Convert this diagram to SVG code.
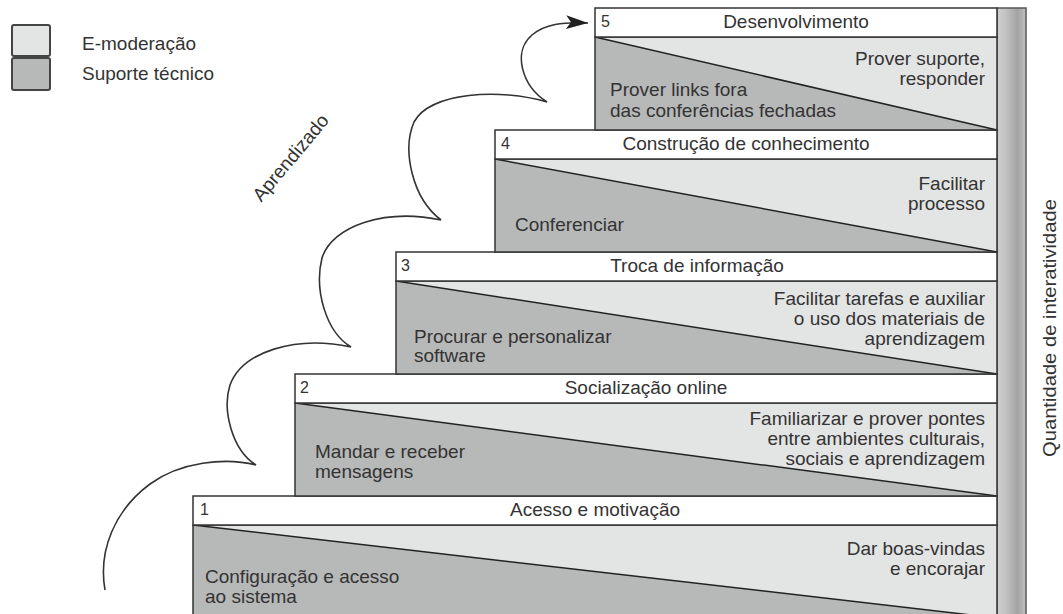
<svg xmlns="http://www.w3.org/2000/svg" width="1063" height="614" viewBox="0 0 1063 614">
<defs>
<style>
text{font-family:"Liberation Sans",Arial,Helvetica,sans-serif;fill:#333;font-size:19px}
.num{font-size:16px}
.mid{text-anchor:middle}
.end{text-anchor:end}
.hdr{fill:#fff;stroke:#333;stroke-width:1.5}
.lt{fill:#e3e4e4}
.dk{fill:#b7b8b8}
.diag{stroke:#222;stroke-width:1.5;fill:none}
.frame{fill:none;stroke:#333;stroke-width:1.5}
.curve{fill:none;stroke:#333;stroke-width:1.6}
.leg{stroke:#444;stroke-width:2}
</style>
<linearGradient id="barg" x1="0" y1="0" x2="1" y2="0">
<stop offset="0" stop-color="#cfcfcf"/>
<stop offset="0.3" stop-color="#c2c2c2"/>
<stop offset="0.7" stop-color="#a3a3a3"/>
<stop offset="0.88" stop-color="#b3b3b3"/>
<stop offset="1" stop-color="#c6c6c6"/>
</linearGradient>
<marker id="arr" markerUnits="userSpaceOnUse" markerWidth="24" markerHeight="14" refX="22" refY="7" orient="auto" viewBox="0 0 24 14">
<path d="M0,0 L22,7 L0,14 L5,7 z" fill="#222"/>
</marker>
</defs>

<g id="legend">
<rect class="lt leg" x="12" y="25" width="38" height="31" rx="2"/>
<rect class="dk leg" x="12" y="58" width="38" height="32" rx="2"/>
<text x="82" y="50">E-moderação</text>
<text x="82" y="80">Suporte técnico</text>
</g>

<g id="bar">
<rect x="997" y="8" width="29" height="620" fill="url(#barg)" stroke="#555" stroke-width="1.5"/>
<text class="mid" font-size="20" textLength="258" lengthAdjust="spacingAndGlyphs" transform="translate(1056,328) rotate(-90)">Quantidade de interatividade</text>
</g>

<g id="step1">
<polygon class="lt" points="193,525 997,525 997,618"/>
<polygon class="dk" points="193,525 997,618 193,618"/>
<line class="diag" x1="193" y1="525" x2="997" y2="618"/>
<rect class="frame" x="193" y="525" width="804" height="93"/>
<rect class="hdr" x="193" y="496" width="804" height="29"/>
<text class="num" x="200" y="515">1</text>
<text class="mid" x="595" y="516">Acesso e motivação</text>
<text class="end" x="985" y="555">Dar boas-vindas</text>
<text class="end" x="985" y="575">e encorajar</text>
<text x="205" y="583">Configuração e acesso</text>
<text x="205" y="603">ao sistema</text>
</g>

<g id="step2">
<polygon class="lt" points="295,403 997,403 997,496"/>
<polygon class="dk" points="295,403 997,496 295,496"/>
<line class="diag" x1="295" y1="403" x2="997" y2="496"/>
<rect class="frame" x="295" y="403" width="702" height="93"/>
<rect class="hdr" x="295" y="374" width="702" height="29"/>
<text class="num" x="300" y="393">2</text>
<text class="mid" x="646" y="394">Socialização online</text>
<text class="end" x="985" y="425">Familiarizar e prover pontes</text>
<text class="end" x="985" y="445">entre ambientes culturais,</text>
<text class="end" x="985" y="465">sociais e aprendizagem</text>
<text x="315" y="458">Mandar e receber</text>
<text x="315" y="478">mensagens</text>
</g>

<g id="step3">
<polygon class="lt" points="396,281 997,281 997,374"/>
<polygon class="dk" points="396,281 997,374 396,374"/>
<line class="diag" x1="396" y1="281" x2="997" y2="374"/>
<rect class="frame" x="396" y="281" width="601" height="93"/>
<rect class="hdr" x="396" y="252" width="601" height="29"/>
<text class="num" x="401" y="271">3</text>
<text class="mid" x="697" y="272">Troca de informação</text>
<text class="end" x="985" y="305">Facilitar tarefas e auxiliar</text>
<text class="end" x="985" y="325">o uso dos materiais de</text>
<text class="end" x="985" y="345">aprendizagem</text>
<text x="414" y="343">Procurar e personalizar</text>
<text x="414" y="362">software</text>
</g>

<g id="step4">
<polygon class="lt" points="495,159 997,159 997,252"/>
<polygon class="dk" points="495,159 997,252 495,252"/>
<line class="diag" x1="495" y1="159" x2="997" y2="252"/>
<rect class="frame" x="495" y="159" width="502" height="93"/>
<rect class="hdr" x="495" y="130" width="502" height="29"/>
<text class="num" x="501" y="149">4</text>
<text class="mid" x="746" y="150">Construção de conhecimento</text>
<text class="end" x="985" y="190">Facilitar</text>
<text class="end" x="985" y="210">processo</text>
<text x="515" y="231">Conferenciar</text>
</g>

<g id="step5">
<polygon class="lt" points="595,37 997,37 997,130"/>
<polygon class="dk" points="595,37 997,130 595,130"/>
<line class="diag" x1="595" y1="37" x2="997" y2="130"/>
<rect class="frame" x="595" y="37" width="402" height="93"/>
<rect class="hdr" x="595" y="8" width="402" height="29"/>
<text class="num" x="601" y="27">5</text>
<text class="mid" x="796" y="28">Desenvolvimento</text>
<text class="end" x="985" y="65">Prover suporte,</text>
<text class="end" x="985" y="85">responder</text>
<text x="610" y="96">Prover links fora</text>
<text x="610" y="117">das conferências fechadas</text>
</g>

<g id="connectors">
<path class="curve" marker-end="url(#arr)" d="M105,590 C98,550 115,510 150,484 C180,462 225,457 256,465 C232,450 222,410 230,385 C242,352 295,335 351,347 C326,332 314,290 322,258 C332,226 385,208 441,220 C412,198 402,150 414,122 C430,92 500,88 547,102 C522,86 512,52 532,35 C545,24 562,22 588,23"/>
<text class="mid" font-size="17" transform="translate(291,158) rotate(-50)" y="6">Aprendizado</text>
</g>
</svg>
